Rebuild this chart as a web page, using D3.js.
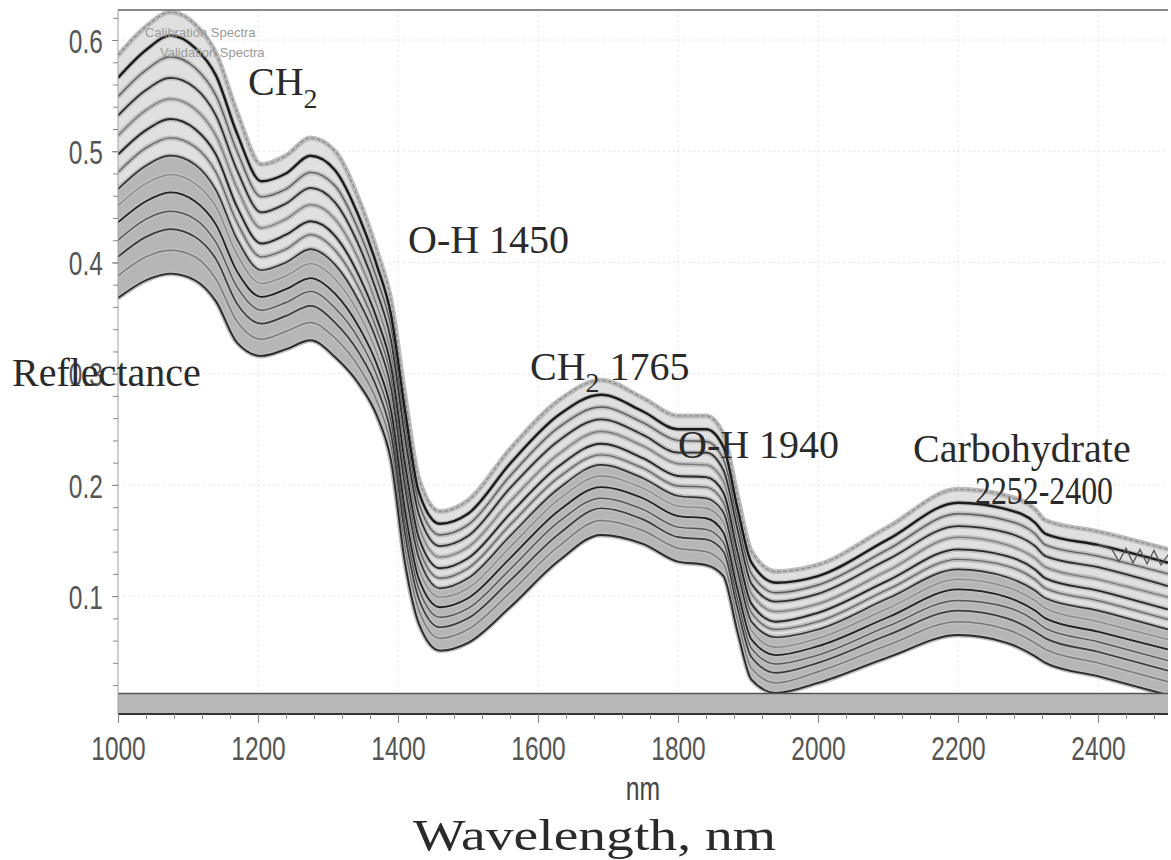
<!DOCTYPE html>
<html>
<head>
<meta charset="utf-8">
<script src="https://cdn.jsdelivr.net/npm/d3@7"></script>
<style>
body { margin: 0; background: #fff; }
</style>
</head>
<body>
<div id="chart-area"></div>
<script>
// wavelengths (nm) shared by every spectrum
var wavelengths = [1000,1040,1075,1110,1140,1170,1205,1240,1275,1310,1345,1370,1390,1410,1430,1460,1500,1560,1630,1690,1750,1800,1840,1865,1885,1905,1940,2000,2100,2200,2270,2310,2325,2400,2500];

// reflectance, top spectrum first
var spec00 = [.586,.612,.625,.614,.588,.535,.488,.496,.512,.500,.455,.410,.366,.280,.205,.176,.186,.232,.276,.294,.278,.262,.262,.245,.190,.140,.122,.128,.162,.196,.190,.178,.168,.158,.142];
var spec01 = [.566,.591,.604,.593,.568,.516,.473,.480,.496,.483,.440,.397,.353,.267,.193,.165,.174,.219,.263,.281,.266,.250,.250,.234,.179,.130,.112,.118,.151,.184,.178,.166,.156,.146,.130];
var spec02 = [.549,.573,.585,.575,.550,.500,.459,.466,.481,.469,.427,.385,.342,.255,.183,.155,.164,.208,.252,.270,.256,.240,.239,.223,.169,.120,.103,.110,.142,.174,.168,.156,.146,.136,.120];
var spec03 = [.532,.555,.566,.557,.532,.483,.445,.453,.467,.454,.414,.373,.330,.243,.173,.145,.154,.197,.240,.259,.245,.229,.229,.213,.160,.111,.095,.102,.133,.163,.157,.145,.136,.126,.109];
var spec04 = [.514,.537,.547,.538,.514,.467,.431,.439,.452,.439,.401,.361,.318,.231,.162,.135,.144,.185,.228,.248,.235,.219,.218,.203,.150,.102,.086,.093,.123,.153,.146,.134,.126,.115,.099];
var spec05 = [.497,.519,.529,.520,.497,.450,.417,.425,.437,.424,.387,.349,.307,.219,.152,.125,.134,.174,.217,.237,.224,.208,.207,.193,.140,.093,.077,.085,.114,.142,.136,.124,.116,.105,.088];
var spec06 = [.481,.503,.512,.504,.481,.436,.405,.412,.425,.411,.376,.339,.297,.208,.143,.116,.125,.164,.207,.227,.215,.199,.198,.184,.131,.085,.070,.077,.106,.133,.127,.115,.107,.096,.079];
var spec07 = [.466,.487,.496,.488,.465,.421,.393,.400,.412,.398,.364,.329,.287,.198,.134,.107,.116,.154,.197,.218,.206,.190,.188,.175,.123,.077,.063,.070,.098,.124,.117,.105,.098,.087,.070];
var spec08 = [.451,.471,.479,.471,.450,.407,.381,.388,.399,.385,.353,.318,.277,.187,.124,.099,.107,.144,.187,.208,.197,.181,.179,.166,.114,.069,.054,.062,.089,.115,.108,.096,.089,.077,.061];
var spec09 = [.436,.455,.463,.455,.434,.392,.369,.376,.386,.372,.341,.308,.267,.177,.115,.090,.098,.134,.177,.198,.188,.172,.170,.157,.106,.061,.047,.055,.081,.106,.099,.087,.080,.068,.052];
var spec10 = [.420,.439,.446,.439,.418,.378,.357,.364,.374,.359,.330,.298,.257,.166,.106,.081,.089,.124,.167,.188,.178,.162,.160,.148,.097,.053,.039,.047,.073,.096,.090,.078,.071,.059,.042];
var spec11 = [.405,.423,.430,.423,.403,.363,.345,.352,.361,.346,.318,.287,.246,.156,.097,.072,.080,.114,.156,.179,.169,.153,.151,.140,.089,.045,.031,.040,.065,.087,.080,.068,.062,.050,.033];
var spec12 = [.388,.405,.411,.405,.385,.347,.331,.338,.346,.332,.305,.275,.235,.144,.087,.062,.070,.103,.145,.168,.159,.143,.140,.129,.079,.035,.022,.032,.056,.077,.070,.058,.052,.040,.023];
var spec13 = [.368,.384,.390,.384,.365,.328,.316,.322,.330,.315,.290,.262,.222,.130,.075,.051,.058,.090,.132,.155,.147,.131,.128,.118,.068,.025,.013,.022,.045,.065,.058,.046,.040,.028,.011];

var spectra = [spec00,spec01,spec02,spec03,spec04,spec05,spec06,spec07,spec08,spec09,spec10,spec11,spec12,spec13];

// the noisy tail on the second spectrum
var noisyWl  = [2400,2420,2430,2440,2450,2460,2470,2480,2490,2500];
var noisyVal = [.146,.142,.131,.143,.130,.142,.129,.141,.128,.137];

// tick labels
var xTicks = [1000,1200,1400,1600,1800,2000,2200,2400];
var yTicks = [0.1,0.2,0.3,0.4,0.5,0.6];

// line looks, one per spectrum
var lineColors = ["#8c8c8c","#1a1a1a","#5a5a5a","#2e2e2e","#7a7a7a","#262626","#666666","#333333","#888888","#222222","#555555","#3a3a3a","#777777","#2a2a2a"];
var lineWidths = [1.3,2.4,1.4,1.8,1.3,1.9,1.4,1.7,1.3,1.8,1.4,1.7,1.4,1.9];

var margin = { top: 10, right: 3, bottom: 146, left: 118 };
var width = 1171 - margin.left - margin.right,
	height = 860 - margin.top - margin.bottom;

var svg = d3.select("#chart-area")
	.append("svg")
		.attr("width", 1171)
		.attr("height", 860);

var g = svg.append("g")
	.attr("transform", "translate(" + margin.left + ", " + margin.top + ")");

var x = d3.scaleLinear().domain([1000, 2500]).range([0, width]);
var y = d3.scaleLinear().domain([-0.006, 0.627]).range([height, 0]);

var bandTop = 0.0125;

g.append("clipPath").attr("id", "plot-clip")
	.append("rect")
	.attr("width", width)
	.attr("height", y(bandTop));

// faint grid
g.append("g").selectAll("line").data(xTicks.slice(1)).enter()
	.append("line")
	.attr("x1", d => x(d)).attr("x2", d => x(d))
	.attr("y1", 0).attr("y2", y(bandTop))
	.attr("stroke", "#e2e2e2").attr("stroke-dasharray", "2,3");
g.append("g").selectAll("line").data(yTicks).enter()
	.append("line")
	.attr("x1", 0).attr("x2", width)
	.attr("y1", d => y(d)).attr("y2", d => y(d))
	.attr("stroke", "#e2e2e2").attr("stroke-dasharray", "2,3");

var plot = g.append("g").attr("clip-path", "url(#plot-clip)");

var line = d3.line()
	.x((d, i) => x(wavelengths[i]))
	.y(d => y(d))
	.curve(d3.curveMonotoneX);

function band(hi, lo) {
	return d3.area()
		.x((d, i) => x(wavelengths[i]))
		.y0((d, i) => y(lo[i]))
		.y1(d => y(d))
		.curve(d3.curveMonotoneX)(hi);
}

// grey body of the bundle
plot.append("path").attr("d", band(spec00, spec13)).attr("fill", "#e0e0e0");
plot.append("path").attr("d", band(spec07, spec13)).attr("fill", "#b6b6b6");

// halos then the lines themselves
plot.selectAll(".halo").data(spectra).enter()
	.append("path")
	.attr("class", "halo")
	.attr("fill", "none")
	.attr("stroke", "#bdbdbd")
	.attr("stroke-width", 5)
	.attr("d", d => line(d));

plot.selectAll(".spec").data(spectra).enter()
	.append("path")
	.attr("class", "spec")
	.attr("fill", "none")
	.attr("stroke", (d, i) => lineColors[i])
	.attr("stroke-width", (d, i) => lineWidths[i])
	.attr("stroke-dasharray", (d, i) => i == 0 ? "4,2" : null)
	.attr("d", d => line(d));

plot.append("path")
	.attr("fill", "none")
	.attr("stroke", "#555")
	.attr("stroke-width", 1.3)
	.attr("d", d3.line().x((d, i) => x(noisyWl[i])).y(d => y(d))(noisyVal));

// faint legend left by the software, sitting over the curves
g.append("text").attr("x", 27).attr("y", 27)
	.attr("font-family", "Liberation Sans").attr("font-size", "13px")
	.attr("fill", "#9a9a9a").text("Calibration Spectra");
g.append("text").attr("x", 42).attr("y", 47)
	.attr("font-family", "Liberation Sans").attr("font-size", "13px")
	.attr("fill", "#9a9a9a").text("Validation Spectra");

// grey strip above the x axis
g.append("rect")
	.attr("x", 0).attr("y", y(bandTop))
	.attr("width", width).attr("height", height - y(bandTop))
	.attr("fill", "#b8b8b8");
g.append("line")
	.attr("x1", 0).attr("x2", width)
	.attr("y1", y(bandTop)).attr("y2", y(bandTop))
	.attr("stroke", "#555").attr("stroke-width", 1.5);
g.append("line")
	.attr("x1", 0).attr("x2", width)
	.attr("y1", height).attr("y2", height)
	.attr("stroke", "#333").attr("stroke-width", 2);

// frame
g.append("line").attr("x1", 0).attr("x2", width).attr("y1", 0).attr("y2", 0)
	.attr("stroke", "#666").attr("stroke-width", 1.5);
g.append("line").attr("x1", 0).attr("x2", 0).attr("y1", 0).attr("y2", height)
	.attr("stroke", "#a0a0a0").attr("stroke-width", 1);

// x axis
var xMinor = g.append("g")
	.attr("transform", "translate(0, " + height + ")")
	.call(d3.axisBottom(x).tickValues(d3.range(1000, 2500, 40)).tickSize(5).tickFormat(""));
var xAxis = g.append("g")
	.attr("transform", "translate(0, " + height + ")")
	.call(d3.axisBottom(x).tickValues(xTicks).tickSize(9).tickFormat(d3.format("d")));

// y axis
var yMinor = g.append("g")
	.call(d3.axisLeft(y).tickValues(d3.range(0.02, 0.63, 0.02)).tickSize(5).tickFormat(""));
var yAxis = g.append("g")
	.call(d3.axisLeft(y).tickValues(yTicks).tickSize(6).tickFormat(d3.format(".1f")));

g.selectAll(".domain").remove();
g.selectAll(".tick line").attr("stroke", "#888");

xAxis.selectAll("text")
	.attr("y", 46).attr("dy", 0)
	.attr("transform", "scale(0.72,1)");
yAxis.selectAll("text")
	.attr("x", -21).attr("dy", "0.36em")
	.attr("transform", "scale(0.72,1)");
g.selectAll(".tick text")
	.attr("font-family", "Liberation Sans")
	.attr("font-size", "34px")
	.attr("fill", "#555");

// axis titles
svg.append("text")
	.attr("transform", "translate(643, 800) scale(0.75,1)")
	.attr("text-anchor", "middle")
	.attr("font-family", "Liberation Sans")
	.attr("font-size", "33px")
	.attr("fill", "#444")
	.text("nm");

svg.append("text")
	.attr("x", 413).attr("y", 850)
	.attr("font-family", "Liberation Serif")
	.attr("font-size", "45px")
	.attr("fill", "#2a2a2a")
	.attr("textLength", 363)
	.attr("lengthAdjust", "spacingAndGlyphs")
	.text("Wavelength, nm");

var serif = "Liberation Serif";

svg.append("text")
	.attr("x", 12).attr("y", 386)
	.attr("font-family", serif).attr("font-size", "40px").attr("fill", "#2a2a2a")
	.text("Reflectance");

// band annotations
var ch = svg.append("text")
	.attr("x", 248).attr("y", 95)
	.attr("font-family", serif).attr("font-size", "40px").attr("fill", "#2a2a2a")
	.text("CH");
ch.append("tspan").attr("dy", 13).attr("font-size", "28px").text("2");

svg.append("text")
	.attr("x", 408).attr("y", 253)
	.attr("font-family", serif).attr("font-size", "40px").attr("fill", "#2a2a2a")
	.text("O-H 1450");

var ch2 = svg.append("text")
	.attr("x", 530).attr("y", 380)
	.attr("font-family", serif).attr("font-size", "40px").attr("fill", "#2a2a2a")
	.text("CH");
ch2.append("tspan").attr("dy", 12).attr("font-size", "28px").text("2");
ch2.append("tspan").attr("dy", -12).text(" 1765");

svg.append("text")
	.attr("x", 678).attr("y", 458)
	.attr("font-family", serif).attr("font-size", "40px").attr("fill", "#2a2a2a")
	.text("O-H 1940");

svg.append("text")
	.attr("x", 913).attr("y", 462)
	.attr("font-family", serif).attr("font-size", "40px").attr("fill", "#2a2a2a")
	.text("Carbohydrate");

svg.append("text")
	.attr("x", 975).attr("y", 504)
	.attr("font-family", serif).attr("font-size", "40px").attr("fill", "#2a2a2a")
	.attr("textLength", 138).attr("lengthAdjust", "spacingAndGlyphs")
	.text("2252-2400");
</script>
</body>
</html>
